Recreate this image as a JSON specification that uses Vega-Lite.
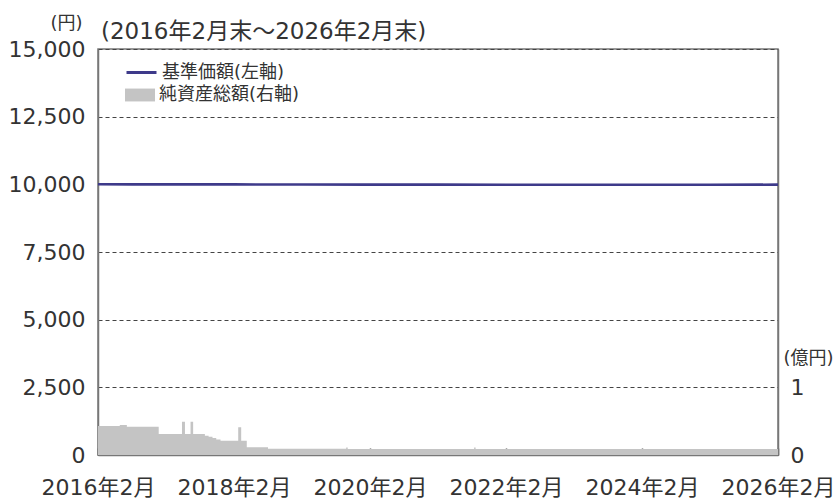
{
  "$schema": "https://vega.github.io/schema/vega-lite/v6.json",
  "width": 680,
  "height": 406,
  "autosize": {"type": "none"},
  "padding": {"left": 98, "top": 49, "right": 58, "bottom": 43},
  "background": "white",
  "config": {
    "font": "DejaVu Sans, Noto Sans CJK JP",
    "view": {"stroke": "#777", "strokeWidth": 1.5},
    "axis": {"labelColor": "#333", "titleColor": "#333", "labelFont": "DejaVu Sans, Noto Sans CJK JP", "titleFont": "DejaVu Sans, Noto Sans CJK JP", "titleFontWeight": "normal"}
  },
  "title": {
    "text": "(2016年2月末〜2026年2月末)",
    "anchor": "start",
    "frame": "group",
    "fontSize": 23,
    "fontWeight": "normal",
    "color": "#333",
    "baseline": "bottom",
    "offset": 3,
    "dx": 3,
    "dy": 56
  },
  "datasets": {
    "aum": [
      {"date": "2016-02-29", "aum": 0.43, "series": "純資産総額(右軸)"},
      {"date": "2016-06-25", "aum": 0.445, "series": "純資産総額(右軸)"},
      {"date": "2016-08-02", "aum": 0.418, "series": "純資産総額(右軸)"},
      {"date": "2017-01-20", "aum": 0.31, "series": "純資産総額(右軸)"},
      {"date": "2017-05-25", "aum": 0.49, "series": "純資産総額(右軸)"},
      {"date": "2017-06-10", "aum": 0.31, "series": "純資産総額(右軸)"},
      {"date": "2017-07-10", "aum": 0.49, "series": "純資産総額(右軸)"},
      {"date": "2017-07-24", "aum": 0.31, "series": "純資産総額(右軸)"},
      {"date": "2017-09-25", "aum": 0.285, "series": "純資産総額(右軸)"},
      {"date": "2017-10-15", "aum": 0.27, "series": "純資産総額(右軸)"},
      {"date": "2017-11-05", "aum": 0.25, "series": "純資産総額(右軸)"},
      {"date": "2017-11-25", "aum": 0.23, "series": "純資産総額(右軸)"},
      {"date": "2017-12-18", "aum": 0.21, "series": "純資産総額(右軸)"},
      {"date": "2018-03-23", "aum": 0.41, "series": "純資産総額(右軸)"},
      {"date": "2018-04-08", "aum": 0.21, "series": "純資産総額(右軸)"},
      {"date": "2018-05-08", "aum": 0.113, "series": "純資産総額(右軸)"},
      {"date": "2018-08-30", "aum": 0.094, "series": "純資産総額(右軸)"},
      {"date": "2019-10-24", "aum": 0.11, "series": "純資産総額(右軸)"},
      {"date": "2019-11-01", "aum": 0.09, "series": "純資産総額(右軸)"},
      {"date": "2021-09-10", "aum": 0.11, "series": "純資産総額(右軸)"},
      {"date": "2021-09-18", "aum": 0.088, "series": "純資産総額(右軸)"},
      {"date": "2026-02-28", "aum": 0.088, "series": "純資産総額(右軸)"}
    ],
    "nav": [
      {"date": "2016-02-29", "nav": 10003, "series": "基準価額(左軸)"},
      {"date": "2016-08-31", "nav": 10000, "series": "基準価額(左軸)"},
      {"date": "2017-06-30", "nav": 9998, "series": "基準価額(左軸)"},
      {"date": "2018-02-28", "nav": 9997, "series": "基準価額(左軸)"},
      {"date": "2019-02-28", "nav": 9994, "series": "基準価額(左軸)"},
      {"date": "2020-02-29", "nav": 9990, "series": "基準価額(左軸)"},
      {"date": "2021-02-28", "nav": 9988, "series": "基準価額(左軸)"},
      {"date": "2022-02-28", "nav": 9986, "series": "基準価額(左軸)"},
      {"date": "2023-02-28", "nav": 9984, "series": "基準価額(左軸)"},
      {"date": "2024-02-29", "nav": 9983, "series": "基準価額(左軸)"},
      {"date": "2025-02-28", "nav": 9985, "series": "基準価額(左軸)"},
      {"date": "2026-02-28", "nav": 9988, "series": "基準価額(左軸)"}
    ]
  },
  "layer": [
    {
      "data": {"name": "aum"},
      "mark": {"type": "area", "interpolate": "step-after", "opacity": 1},
      "encoding": {
        "x": {
          "field": "date", "type": "temporal",
          "scale": {"domain": [{"year": 2016, "month": 2, "date": 29}, {"year": 2026, "month": 2, "date": 28}]},
          "axis": {
            "title": null,
            "values": [
              {"year": 2016, "month": 2, "date": 29},
              {"year": 2018, "month": 2, "date": 28},
              {"year": 2020, "month": 2, "date": 29},
              {"year": 2022, "month": 2, "date": 28},
              {"year": 2024, "month": 2, "date": 29},
              {"year": 2026, "month": 2, "date": 28}
            ],
            "format": "%Y年%-m月",
            "grid": false,
            "domainColor": "#777",
            "domainWidth": 1.5,
            "tickColor": "#555",
            "tickWidth": 1.5,
            "tickSize": -7,
            "labelFontSize": 22,
            "labelBaseline": "alphabetic",
            "labelPadding": 46,
            "labelFlush": false,
            "labelOverlap": false
          }
        },
        "y": {
          "field": "aum", "type": "quantitative",
          "scale": {"domain": [0, 6], "nice": false},
          "axis": {
            "orient": "right",
            "values": [0, 1],
            "format": "d",
            "grid": false,
            "ticks": false,
            "domainColor": "#777",
            "domainWidth": 1.5,
            "labelFontSize": 22,
            "labelPadding": 12,
            "title": "(億円)",
            "titleAngle": 0,
            "titleFontSize": 18,
            "titleX": 30,
            "titleY": 309,
            "titleAlign": "center",
            "titleBaseline": "middle"
          }
        },
        "fill": {
          "field": "series", "type": "nominal",
          "scale": {"domain": ["純資産総額(右軸)"], "range": ["#c4c4c4"]},
          "legend": {
            "title": null,
            "orient": "none",
            "legendX": 27,
            "legendY": 31,
            "padding": 0,
            "symbolSize": 900,
            "symbolType": "M-1,-0.43H1V0.43H-1Z",
            "symbolStrokeWidth": 0,
            "symbolOpacity": 1,
            "labelFontSize": 18,
            "labelColor": "#333",
            "labelFont": "DejaVu Sans, Noto Sans CJK JP",
            "labelOffset": 4
          }
        }
      }
    },
    {
      "data": {"name": "nav"},
      "mark": {"type": "line", "strokeWidth": 2.6},
      "encoding": {
        "x": {"field": "date", "type": "temporal"},
        "y": {
          "field": "nav", "type": "quantitative",
          "scale": {"domain": [0, 15000], "nice": false},
          "axis": {
            "orient": "left",
            "values": [0, 2500, 5000, 7500, 10000, 12500, 15000],
            "format": ",d",
            "ticks": false,
            "domainColor": "#777",
            "domainWidth": 1.5,
            "grid": true,
            "gridColor": "#444",
            "gridDash": [4, 3],
            "gridWidth": 1,
            "labelFontSize": 22,
            "labelPadding": 13,
            "title": "(円)",
            "titleAngle": 0,
            "titleFontSize": 18,
            "titleX": -32,
            "titleY": -26,
            "titleAlign": "center",
            "titleBaseline": "middle"
          }
        },
        "stroke": {
          "field": "series", "type": "nominal",
          "scale": {"domain": ["基準価額(左軸)"], "range": ["#3e3a8a"]},
          "legend": {
            "title": null,
            "orient": "none",
            "legendX": 27,
            "legendY": 7,
            "padding": 0,
            "symbolSize": 900,
            "symbolType": "stroke",
            "symbolStrokeWidth": 3,
            "labelFontSize": 18,
            "labelColor": "#333",
            "labelFont": "DejaVu Sans, Noto Sans CJK JP",
            "labelOffset": 4
          }
        }
      }
    }
  ],
  "resolve": {"scale": {"y": "independent"}}
}
